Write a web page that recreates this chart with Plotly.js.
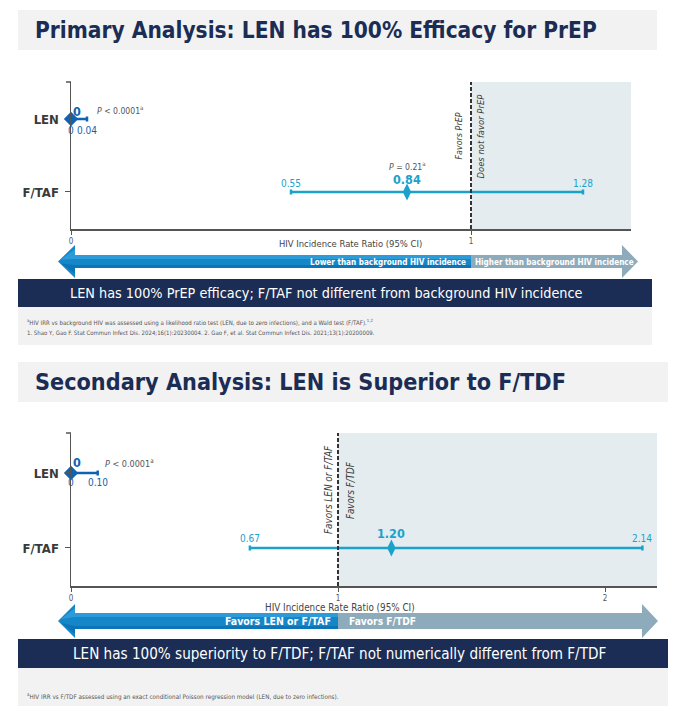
<!DOCTYPE html>
<html><head><meta charset="utf-8">
<script src="https://cdn.plot.ly/plotly-3.0.1.min.js"></script>
<style>html,body{margin:0;padding:0;background:#fff;}#chart{width:690px;height:711px;}</style>
</head><body><div id="chart"></div>
<script>
// ---------------- DATA ----------------
const categories = ['LEN', 'F/TAF'];
const primEst = [0, 0.84];
const primLo  = [0, 0.55];
const primHi  = [0.04, 1.28];
const primP   = ['<i>P</i> < 0.0001<sup>a</sup>', '<i>P</i> = 0.21<sup>a</sup>'];
const secEst  = [0, 1.20];
const secLo   = [0, 0.67];
const secHi   = [0.10, 2.14];
const secP    = ['<i>P</i> < 0.0001<sup>a</sup>', ''];
const refValue = 1;
const primTickVals = [0, 1];
const secTickVals  = [0, 1, 2];
const xTitle = 'HIV Incidence Rate Ratio (95% CI)';
const title1 = 'Primary Analysis: LEN has 100% Efficacy for PrEP';
const title2 = 'Secondary Analysis: LEN is Superior to F/TDF';
const arrow1 = ['Lower than background HIV incidence', 'Higher than background HIV incidence'];
const arrow2 = ['Favors LEN or F/TAF', 'Favors F/TDF'];
const ref1 = ['Favors PrEP', 'Does not favor PrEP'];
const ref2 = ['Favors LEN or F/TAF', 'Favors F/TDF'];
const banner1 = 'LEN has 100% PrEP efficacy; F/TAF not different from background HIV incidence';
const banner2 = 'LEN has 100% superiority to F/TDF; F/TAF not numerically different from F/TDF';
const foot1 = ['<sup>a</sup>HIV IRR vs background HIV was assessed using a likelihood ratio test (LEN, due to zero infections), and a Wald test (F/TAF).<sup>1,2</sup>',
               '1. Shao Y, Gao F. Stat Commun Infect Dis. 2024;16(1):20230004. 2. Gao F, et al. Stat Commun Infect Dis. 2021;13(1):20200009.'];
const foot2 = ['<sup>a</sup>HIV IRR vs F/TDF assessed using an exact conditional Poisson regression model (LEN, due to zero infections).'];

// ---------------- STYLE ----------------
const W = 690, H = 711;
const FONT = "'DejaVu Sans Condensed','DejaVu Sans',sans-serif";
const NAVY = '#1b2d54', TITLE_BG = '#f2f2f2', SHADE = '#e4ecf0';
const C_LEN = '#1063b0', C_FTAF = '#1aa2cb';
const BLUE = '#1586c8', BLUE_HI = '#2c9bd8', BLUE_LO = '#0e74b8', GREY = '#8eabbb';
const px = x => x / W, py = y => 1 - y / H;
const ctx = document.createElement('canvas').getContext('2d');
function fit(text, target, weight, style) {
  ctx.font = `${style || 'normal'} ${weight || 'normal'} 100px ${FONT}`;
  const plain = text.replace(/<\/?(i|b|sup|sub)>/g, '');
  return Math.round(1000 * target / ctx.measureText(plain).width) / 10;
}
const fmt = v => v === 0 ? '0' : v.toFixed(2);

const panels = [
  {xa:'x', ya:'y', est:primEst, lo:primLo, hi:primHi, p:primP, ticks:primTickVals,
   left:71, right:631, top:82, bottom:229, xmax:1.4, yr:[-0.507, 1.507],
   titleText:title1, titleBox:[18,10,657,50], titleW:562,
   xTitleX:350.5, xTitleY:243, xTitleW:143,
   arrow:{tipL:58, headL:75, headR:622, tipR:638, yc:261.5, hh:16.5, bt:255, bb:268},
   arrowText:arrow1, arrowW:[156,159], arrowGap:[3,2],
   banner:[18,279,652,307], bannerText:banner1, bannerX:326.5, bannerW:513,
   footBox:[18,307,652,345], foot:foot1, footY:[323,332], footW:[347,350],
   ref:ref1, refDx:[-13,9], refY:136.5, refW:[47,84],
   lenShift:{est:[6,8], lohi:-11, p:[8,9]},
   ftafShift:{lohi:8, est:12, p:26},
   pW:[48,38]},
  {xa:'x2', ya:'y2', est:secEst, lo:secLo, hi:secHi, p:secP, ticks:secTickVals,
   left:71, right:657, top:433, bottom:586, xmax:(657-71)/267, yr:[-0.507, 1.533],
   titleText:title2, titleBox:[18,362,668,402], titleW:532,
   xTitleX:340, xTitleY:607, xTitleW:150,
   arrow:{tipL:58, headL:75, headR:642, tipR:658, yc:621, hh:17, bt:613, bb:629},
   arrowText:arrow2, arrowW:[106,67], arrowGap:[5,9],
   banner:[18,639,668,668], bannerText:banner2, bannerX:339, bannerW:532,
   footBox:[18,668,668,706], foot:foot2, footY:[696], footW:[313],
   ref:ref2, refDx:[-10,12], refY:490, refW:[88,57],
   lenShift:{est:[6,10], lohi:-10, p:[5,10]},
   ftafShift:{lohi:9, est:14, p:26},
   pW:[50,38]}
];

const data = [], shapes = [], annotations = [];
const layout = {width:W, height:H, margin:{l:0,r:0,t:0,b:0}, autosize:false,
  paper_bgcolor:'#fff', plot_bgcolor:'rgba(0,0,0,0)', showlegend:false,
  font:{family:FONT, color:'#444', size:10}};

const rect = (b, color, layer) => ({type:'rect', xref:'paper', yref:'paper',
  x0:px(b[0]), x1:px(b[2]), y0:py(b[3]), y1:py(b[1]), fillcolor:color, line:{width:0}, layer:layer||'below'});
const path = (pts, color) => ({type:'path', xref:'paper', yref:'paper',
  path: 'M' + pts.map(p => px(p[0]).toFixed(5) + ',' + py(p[1]).toFixed(5)).join(' L') + ' Z',
  fillcolor:color, line:{width:0}, layer:'above'});
const pann = (text, x, y, o) => Object.assign({text, xref:'paper', yref:'paper', x:px(x), y:py(y),
  showarrow:false, xanchor:'left', yanchor:'middle'}, o);

panels.forEach((P, k) => {
  const sfx = k === 0 ? '' : '2';
  const xaName = 'xaxis' + sfx, yaName = 'yaxis' + sfx;
  const ddx = v => P.left + (v / P.xmax) * (P.right - P.left);
  layout[xaName] = {domain:[px(P.left), px(P.right)], range:[0, P.xmax], anchor:P.ya,
    showline:true, linecolor:'#555', linewidth:1.5, ticks:'outside', ticklen:4, tickwidth:1, tickcolor:'#555',
    tickvals:P.ticks, ticktext:P.ticks.map(String), tickfont:{size:8, color:'#555', family:FONT},
    showgrid:false, zeroline:false, fixedrange:true};
  layout[yaName] = {domain:[py(P.bottom), py(P.top)], type:'category',
    categoryarray:categories.slice().reverse(), range:P.yr, anchor:P.xa,
    showline:true, linecolor:'#555', linewidth:1.5, ticks:'outside', ticklen:5, tickcolor:'#555',
    tickfont:{size:13, color:'#3a3a3a', family:FONT, weight:'bold'}, ticklabelstandoff:3,
    showgrid:false, zeroline:false, fixedrange:true};

  // title box
  shapes.push(rect(P.titleBox, TITLE_BG));
  annotations.push(pann(P.titleText, 33, (P.titleBox[1]+P.titleBox[3])/2,
    {font:{size:fit(P.titleText, P.titleW, 'bold'), color:NAVY, weight:'bold', family:FONT}}));

  // shaded region + reference line
  shapes.push({type:'rect', xref:P.xa, yref:P.ya+' domain', x0:refValue, x1:P.xmax, y0:0, y1:1,
    fillcolor:SHADE, line:{width:0}, layer:'below'});
  shapes.push({type:'line', xref:P.xa, yref:P.ya+' domain', x0:refValue, x1:refValue, y0:0, y1:1,
    line:{color:'#333', width:2, dash:'4px,2px'}, layer:'above'});
  // y axis top tick
  shapes.push({type:'line', xref:'paper', yref:'paper', x0:px(P.left-5), x1:px(P.left), y0:py(P.top), y1:py(P.top),
    line:{color:'#555', width:1.5}});

  // rotated reference labels
  const refPx = ddx(refValue);
  P.ref.forEach((t, j) => annotations.push({text:t, xref:'paper', yref:'paper',
    x:px(refPx + P.refDx[j]), y:py(P.refY), textangle:-90, showarrow:false, xanchor:'center', yanchor:'middle',
    font:{size:fit(t, P.refW[j], 'normal', 'italic'), color:'#3a3a3a', style:'italic', family:FONT}}));

  // data traces
  categories.forEach((c, i) => {
    const col = i === 0 ? C_LEN : C_FTAF;
    data.push({type:'scatter', mode:'markers', xaxis:P.xa, yaxis:P.ya, x:[P.est[i]], y:[c], cliponaxis:false,
      marker:{symbol: i === 0 ? 'diamond' : 'diamond-tall', size: i === 0 ? 11 : 12, color:col, line:{width:0}},
      error_x:{type:'data', symmetric:false, array:[P.hi[i]-P.est[i]], arrayminus:[P.est[i]-P.lo[i]],
        color:col, thickness:2.5, width:2.5}, hoverinfo:'skip'});
    const yi = categories.length - 1 - i;
    const a = (text, x, xs, ys, size, bold, o) => annotations.push(Object.assign({text, xref:P.xa, yref:P.ya,
      x, y:yi, xshift:xs, yshift:ys, showarrow:false, xanchor:'center', yanchor:'middle',
      font:{size, color:col, family:FONT, weight: bold ? 'bold' : 'normal'}}, o||{}));
    if (i === 0) {
      const s = P.lenShift;
      a(fmt(P.est[i]), P.est[i], s.est[0], s.est[1], 12.5, true);
      a(fmt(P.lo[i]), P.lo[i], 0, s.lohi, 10, false);
      a(fmt(P.hi[i]), P.hi[i], 0, s.lohi, 10, false);
      if (P.p[i]) annotations.push({text:P.p[i], xref:P.xa, yref:P.ya, x:P.hi[i], y:yi, xshift:s.p[0], yshift:s.p[1],
        showarrow:false, xanchor:'left', yanchor:'middle', font:{size:fit(P.p[i], P.pW[0]), color:'#555', family:FONT}});
    } else {
      const s = P.ftafShift;
      a(fmt(P.lo[i]), P.lo[i], 0, s.lohi, 10, false);
      a(fmt(P.hi[i]), P.hi[i], 0, s.lohi, 10, false);
      a(fmt(P.est[i]), P.est[i], 0, s.est, 12.5, true);
      if (P.p[i]) annotations.push({text:P.p[i], xref:P.xa, yref:P.ya, x:P.est[i], y:yi, yshift:s.p,
        showarrow:false, xanchor:'center', yanchor:'middle', font:{size:fit(P.p[i], P.pW[1]), color:'#555', family:FONT}});
    }
  });

  // x axis title
  annotations.push(pann(xTitle, P.xTitleX, P.xTitleY, {xanchor:'center',
    font:{size:fit(xTitle, P.xTitleW), color:'#444', family:FONT}}));

  // arrow (blue part with light top band and darker bottom band)
  const A = P.arrow, split = refPx;
  shapes.push(path([[A.tipL,A.yc],[A.headL,A.yc-A.hh],[A.headL,A.bt],[split,A.bt],[split,A.bb],[A.headL,A.bb],[A.headL,A.yc+A.hh]], BLUE));
  shapes.push(path([[A.tipL+3,A.yc-2],[A.headL,A.yc-A.hh+4],[A.headL,A.bt],[split,A.bt],[split,A.bt+4],[A.headL,A.bt+4]], BLUE_HI));
  shapes.push(path([[A.tipL+3,A.yc+2],[A.headL,A.yc+A.hh-4],[A.headL,A.bb],[split,A.bb],[split,A.bb-3],[A.headL,A.bb-3]], BLUE_LO));
  shapes.push(path([[split,A.bt],[A.headR,A.bt],[A.headR,A.yc-A.hh],[A.tipR,A.yc],[A.headR,A.yc+A.hh],[A.headR,A.bb],[split,A.bb]], GREY));
  annotations.push(pann(P.arrowText[0], split - P.arrowGap[0], A.yc, {xanchor:'right',
    font:{size:fit(P.arrowText[0], P.arrowW[0], 'bold'), color:'#fff', weight:'bold', family:FONT}}));
  annotations.push(pann(P.arrowText[1], split + P.arrowGap[1], A.yc, {xanchor:'left',
    font:{size:fit(P.arrowText[1], P.arrowW[1], 'bold'), color:'#fff', weight:'bold', family:FONT}}));

  // banner + footnote area
  shapes.push(rect(P.banner, NAVY));
  annotations.push(pann(P.bannerText, P.bannerX, (P.banner[1]+P.banner[3])/2, {xanchor:'center',
    font:{size:fit(P.bannerText, P.bannerW), color:'#fff', family:FONT}}));
  shapes.push(rect(P.footBox, TITLE_BG));
  P.foot.forEach((t, j) => annotations.push(pann(t, 25, P.footY[j],
    {font:{size:fit(t, P.footW[j]), color:'#555', family:FONT}})));
});

layout.shapes = shapes;
layout.annotations = annotations;
Plotly.newPlot('chart', data, layout, {staticPlot:true, displayModeBar:false});
</script>
</body></html>
